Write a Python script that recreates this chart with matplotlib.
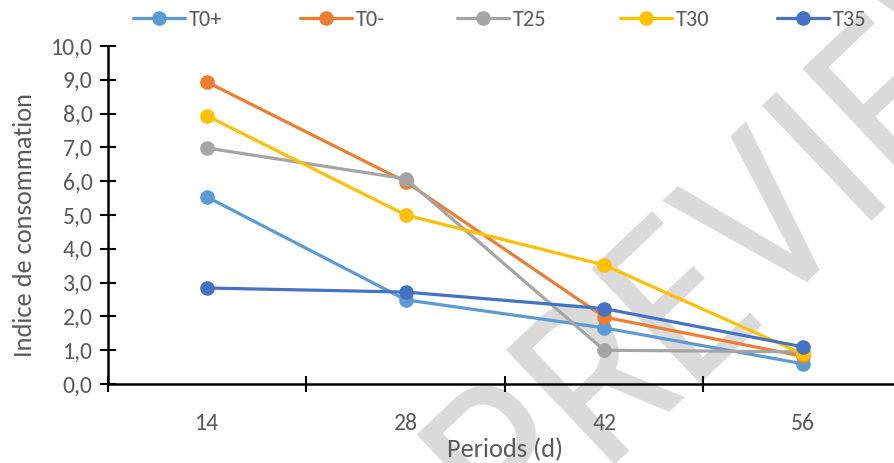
import matplotlib
matplotlib.use("Agg")
import matplotlib.pyplot as plt
from matplotlib import font_manager as fm
from matplotlib.ticker import FuncFormatter, FixedLocator

available = {f.name for f in fm.fontManager.ttflist}


def pick(cands, default):
    for c in cands:
        if c in available:
            return c
    return default


main_font = pick(["Carlito", "Calibri"], "Lato")
wm_font = pick(["Roboto Condensed", "Open Sans Condensed", "DejaVu Sans Condensed",
                "Liberation Sans Narrow", "Arimo"], "DejaVu Sans")
plt.rcParams['font.family'] = [main_font, 'DejaVu Sans']
if main_font in ("Carlito", "Calibri"):
    tick_fs, leg_fs, title_fs = 17, 16, 19
else:
    tick_fs, leg_fs, title_fs = 16, 15.5, 18

periods = ["14", "28", "42", "56"]
series_names = ["T0+", "T0-", "T25", "T30", "T35"]
t0_plus = [5.53, 2.49, 1.66, 0.60]
t0_minus = [8.93, 5.98, 1.98, 0.82]
t25 = [6.98, 6.07, 1.00, 0.95]
t30 = [7.93, 5.00, 3.52, 0.89]
t35 = [2.84, 2.72, 2.23, 1.10]
colors = ["#5B9BD5", "#ED7D31", "#A5A5A5", "#FFC000", "#4472C4"]

W, H = 894, 463
fig = plt.figure(figsize=(W / 100, H / 100), dpi=100)
ax = fig.add_axes([108 / W, 1 - 384 / H, (902 - 108) / W, (384 - 46) / H])

# watermark (behind the plot)
fig.text(803 / W, 1 - 270 / H, "PREVIEW", fontsize=160, color="#DADADA", rotation=43.5,
         rotation_mode="anchor", ha="center", va="baseline", zorder=-1,
         family=[wm_font, "DejaVu Sans"])
ax.patch.set_alpha(0)

x = list(range(1, len(periods) + 1))
lines = []
for name, vals, c in zip(series_names, [t0_plus, t0_minus, t25, t30, t35], colors):
    ln, = ax.plot(x, vals, color=c, lw=2.3, marker="o", markersize=9.5, label=name,
                  solid_capstyle="round", zorder=3)
    lines.append(ln)

ax.set_xlim(0.5, len(periods) + 0.5)
ax.set_ylim(0, 10)
ax.set_yticks([i for i in range(11)])
ax.yaxis.set_major_formatter(FuncFormatter(lambda v, p: f"{v:.1f}".replace(".", ",")))
ax.xaxis.set_major_locator(FixedLocator([i + 0.5 for i in range(len(periods) + 1)]))
ax.xaxis.set_minor_locator(FixedLocator(x))
ax.set_xticklabels([""] * (len(periods) + 1))
ax.set_xticklabels(periods, minor=True)
ax.tick_params(axis="x", which="minor", length=0, pad=21, labelsize=tick_fs, labelcolor="#595959")
ax.tick_params(axis="x", which="major", direction="inout", length=12, width=1.5, color="black")
ax.tick_params(axis="y", direction="inout", length=12, width=1.5, color="black",
               labelsize=tick_fs, labelcolor="#595959", pad=5)

for s in ["top", "right"]:
    ax.spines[s].set_visible(False)
for s in ["left", "bottom"]:
    ax.spines[s].set_linewidth(1.8)
    ax.spines[s].set_color("black")

fig.text(25 / W, 1 - 225 / H, "Indice de consommation", fontsize=title_fs, color="#595959",
         ha="center", va="center", rotation=90)
fig.text(505 / W, 1 - 450 / H, "Periods (d)", fontsize=title_fs, color="#595959",
         ha="center", va="center")

# legend entries placed individually, as in the reference
leg_x = [133, 300, 457, 620, 777]
for ln, lx in zip(lines, leg_x):
    fig.legend(handles=[ln], loc="center left", bbox_to_anchor=(lx / W, 1 - 20 / H),
               frameon=False, fontsize=leg_fs, handlelength=52 / (leg_fs * 100 / 72),
               handletextpad=0.15, labelcolor="#595959", borderaxespad=0, borderpad=0)

fig.savefig("out.png", dpi=100)
